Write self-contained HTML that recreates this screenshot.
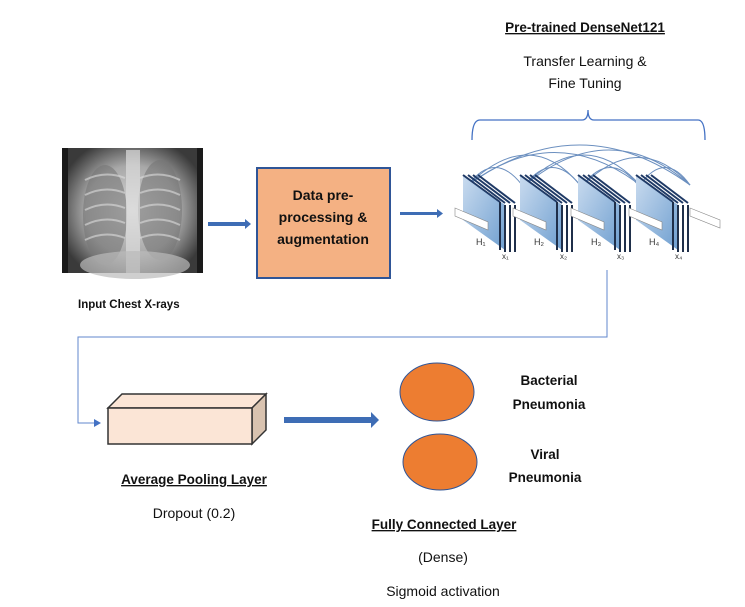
<!DOCTYPE html>
<html><head><meta charset="utf-8"><style>
html,body{margin:0;padding:0;background:#fff;}
svg{display:block;}
text{font-family:"Liberation Sans",sans-serif;fill:#111;}
</style></head><body>
<svg width="745" height="607" viewBox="0 0 745 607" xmlns="http://www.w3.org/2000/svg">
<defs>
<radialGradient id="xr" cx="50%" cy="50%" r="60%">
<stop offset="0" stop-color="#d8d8d8"/><stop offset="0.6" stop-color="#a8a8a8"/><stop offset="1" stop-color="#3a3a3a"/>
</radialGradient>
<linearGradient id="blk" x1="0" y1="0" x2="1" y2="1">
<stop offset="0" stop-color="#c9dbef"/><stop offset="1" stop-color="#6f9fd0"/>
</linearGradient>
</defs>

<!-- Xray -->
<rect x="62" y="148" width="141" height="125" fill="#1a1a1a"/>
<rect x="68" y="148" width="129" height="125" fill="url(#xr)"/>
<ellipse cx="105" cy="215" rx="22" ry="50" fill="#777" opacity="0.6"/>
<ellipse cx="160" cy="210" rx="22" ry="50" fill="#777" opacity="0.6"/>
<g stroke="#ddd" stroke-width="2" opacity="0.6" fill="none">
<path d="M85,180 Q105,170 125,178"/><path d="M85,195 Q105,185 125,193"/><path d="M85,210 Q105,200 125,208"/><path d="M85,225 Q105,215 125,223"/><path d="M85,240 Q105,230 125,238"/>
<path d="M140,178 Q160,170 180,180"/><path d="M140,193 Q160,185 180,195"/><path d="M140,208 Q160,200 180,210"/><path d="M140,223 Q160,215 180,225"/><path d="M140,238 Q160,230 180,240"/>
</g>
<rect x="126" y="150" width="14" height="123" fill="#ddd" opacity="0.7"/>
<ellipse cx="135" cy="265" rx="55" ry="14" fill="#bbb" opacity="0.7"/>

<!-- arrow 1 -->
<rect x="208" y="222" width="38" height="4" fill="#3e6db5"/>
<polygon points="245,219 251,224 245,229" fill="#3e6db5"/>

<!-- box -->
<rect x="257" y="168" width="133" height="110" fill="#f4b183" stroke="#2f5597" stroke-width="2"/>
<text x="323" y="200" font-size="14" font-weight="bold" text-anchor="middle">Data pre-</text>
<text x="323" y="222" font-size="14" font-weight="bold" text-anchor="middle">processing &amp;</text>
<text x="323" y="244" font-size="14" font-weight="bold" text-anchor="middle">augmentation</text>

<text x="78" y="308" font-size="11.5" font-weight="bold">Input Chest X-rays</text>

<!-- arrow 2 -->
<rect x="400" y="212" width="38" height="3" fill="#3e6db5"/>
<polygon points="437,209 443,213.5 437,218" fill="#3e6db5"/>

<!-- titles -->
<text x="585" y="32" font-size="13.5" font-weight="bold" text-anchor="middle" text-decoration="underline">Pre-trained DenseNet121</text>
<text x="585" y="66" font-size="14" text-anchor="middle">Transfer Learning &amp;</text>
<text x="585" y="88" font-size="14" text-anchor="middle">Fine Tuning</text>

<!-- bracket -->
<path d="M472,140 Q472,120 480,120 L582,120 Q588,120 588,110 Q588,120 594,120 L698,120 Q705,120 705,140" fill="none" stroke="#4472c4" stroke-width="1.3"/>

<!-- densenet -->
<g fill="none" stroke="#6b8fbf" stroke-width="1">
<path d="M468,185 Q495,150 522,185"/><path d="M468,185 Q530,125 580,185"/><path d="M468,185 Q580,105 690,185"/>
<path d="M525,185 Q552,150 580,185"/><path d="M525,185 Q585,125 640,185"/><path d="M525,185 Q610,115 690,185"/>
<path d="M583,185 Q610,150 638,185"/><path d="M583,185 Q640,130 690,185"/>
<path d="M640,185 Q665,150 690,185"/><path d="M468,185 Q555,120 640,185"/>
</g>
<g>
<polygon points="463,175 505,205 505,250 463,220" fill="url(#blk)"/>
<polygon points="520,175 562,205 562,250 520,220" fill="url(#blk)"/>
<polygon points="578,175 620,205 620,250 578,220" fill="url(#blk)"/>
<polygon points="636,175 678,205 678,250 636,220" fill="url(#blk)"/>
</g>
<g stroke="#1f3a66" stroke-width="2">
<line x1="463" y1="175" x2="500" y2="202"/><line x1="468" y1="175" x2="505" y2="203"/><line x1="473" y1="175" x2="510" y2="203"/><line x1="478" y1="175" x2="515" y2="203"/>
<line x1="520" y1="175" x2="557" y2="202"/><line x1="525" y1="175" x2="562" y2="203"/><line x1="530" y1="175" x2="567" y2="203"/><line x1="535" y1="175" x2="572" y2="203"/>
<line x1="578" y1="175" x2="615" y2="202"/><line x1="583" y1="175" x2="620" y2="203"/><line x1="588" y1="175" x2="625" y2="203"/><line x1="593" y1="175" x2="630" y2="203"/>
<line x1="636" y1="175" x2="673" y2="202"/><line x1="641" y1="175" x2="678" y2="203"/><line x1="646" y1="175" x2="683" y2="203"/><line x1="651" y1="175" x2="688" y2="203"/>
</g>
<g stroke="#1f2f4a" stroke-width="2">
<line x1="500" y1="202" x2="500" y2="250"/><line x1="505" y1="205" x2="505" y2="252"/><line x1="510" y1="205" x2="510" y2="252"/><line x1="515" y1="205" x2="515" y2="252"/>
<line x1="557" y1="202" x2="557" y2="250"/><line x1="562" y1="205" x2="562" y2="252"/><line x1="567" y1="205" x2="567" y2="252"/><line x1="572" y1="205" x2="572" y2="252"/>
<line x1="615" y1="202" x2="615" y2="250"/><line x1="620" y1="205" x2="620" y2="252"/><line x1="625" y1="205" x2="625" y2="252"/><line x1="630" y1="205" x2="630" y2="252"/>
<line x1="673" y1="202" x2="673" y2="250"/><line x1="678" y1="205" x2="678" y2="252"/><line x1="683" y1="205" x2="683" y2="252"/><line x1="688" y1="205" x2="688" y2="252"/>
</g>
<g fill="#fff" stroke="#888" stroke-width="0.6">
<polygon points="455,208 488,222 488,230 455,216"/>
<polygon points="513,208 546,222 546,230 513,216"/>
<polygon points="571,208 604,222 604,230 571,216"/>
<polygon points="629,208 662,222 662,230 629,216"/>
<polygon points="690,208 720,220 720,228 690,216"/>
</g>
<g font-size="9" fill="#333">
<text x="476" y="245" style="fill:#333">H₁</text><text x="534" y="245" style="fill:#333">H₂</text>
<text x="591" y="245" style="fill:#333">H₃</text><text x="649" y="245" style="fill:#333">H₄</text>
<text x="502" y="259" style="fill:#333" font-size="8">x₁</text><text x="560" y="259" style="fill:#333" font-size="8">x₂</text>
<text x="617" y="259" style="fill:#333" font-size="8">x₃</text><text x="675" y="259" style="fill:#333" font-size="8">x₄</text>
</g>

<!-- connector -->
<polyline points="607,270 607,337 78,337 78,423 94,423" fill="none" stroke="#4472c4" stroke-width="1" opacity="0.85"/>
<polygon points="94,419 101,423 94,427" fill="#4472c4"/>

<!-- pooling box -->
<polygon points="108,408 122,394 266,394 252,408" fill="#fbe5d6" stroke="#333" stroke-width="1.5"/>
<polygon points="252,408 266,394 266,430 252,444" fill="#d9c3b0" stroke="#333" stroke-width="1.5"/>
<rect x="108" y="408" width="144" height="36" fill="#fbe5d6" stroke="#333" stroke-width="1.5"/>

<!-- arrow 3 -->
<rect x="284" y="417" width="88" height="6" fill="#3e6db5"/>
<polygon points="371,412 379,420 371,428" fill="#3e6db5"/>

<text x="194" y="484" font-size="13.5" font-weight="bold" text-anchor="middle" text-decoration="underline">Average Pooling Layer</text>
<text x="194" y="518" font-size="14" text-anchor="middle">Dropout (0.2)</text>

<!-- circles -->
<ellipse cx="437" cy="392" rx="37" ry="29" fill="#ed7d31" stroke="#2f5597" stroke-width="1"/>
<ellipse cx="440" cy="462" rx="37" ry="28" fill="#ed7d31" stroke="#2f5597" stroke-width="1"/>
<text x="549" y="385" font-size="13.5" font-weight="bold" text-anchor="middle">Bacterial</text>
<text x="549" y="409" font-size="13.5" font-weight="bold" text-anchor="middle">Pneumonia</text>
<text x="545" y="459" font-size="13.5" font-weight="bold" text-anchor="middle">Viral</text>
<text x="545" y="482" font-size="13.5" font-weight="bold" text-anchor="middle">Pneumonia</text>

<text x="444" y="529" font-size="13.5" font-weight="bold" text-anchor="middle" text-decoration="underline">Fully Connected Layer</text>
<text x="443" y="562" font-size="14" text-anchor="middle">(Dense)</text>
<text x="443" y="596" font-size="14" text-anchor="middle">Sigmoid activation</text>
</svg>
</body></html>
